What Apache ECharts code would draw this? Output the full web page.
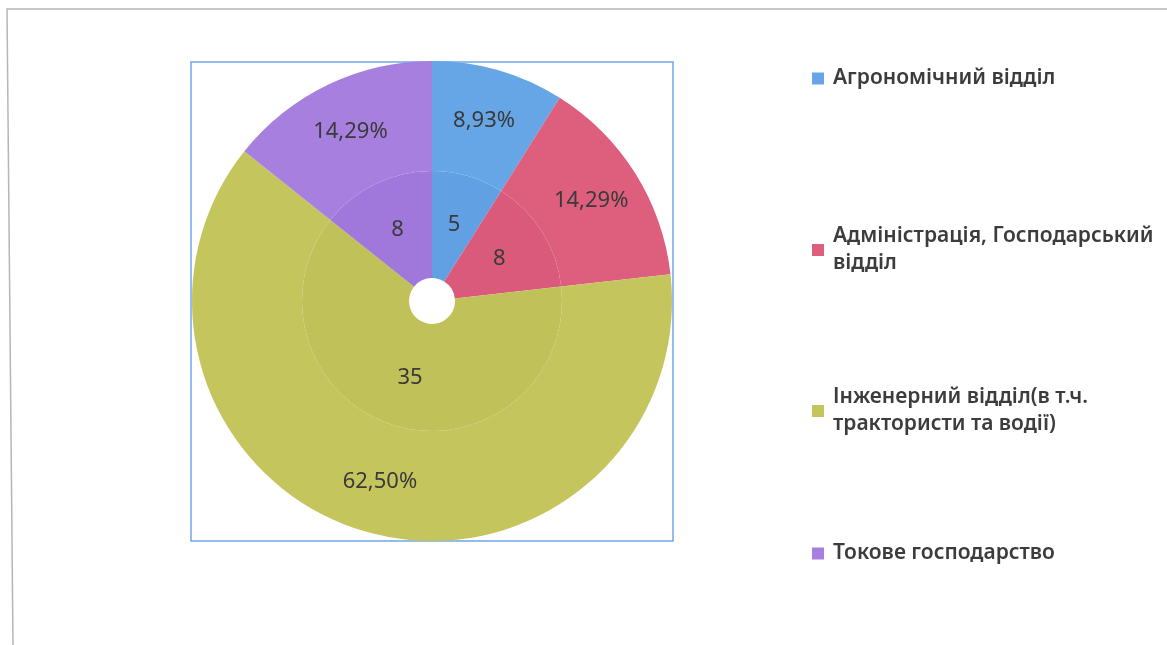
<!DOCTYPE html>
<html>
<head>
    <meta charset="utf-8">
    <title>ECharts</title>
    <script src="https://cdn.jsdelivr.net/npm/echarts@6/dist/echarts.min.js"></script>
</head>
<body style="margin:0;background:#fff;">
    <div id="main" style="width:1167px;height:645px;"></div>
    <script type="text/javascript">
        var myChart = echarts.init(document.getElementById('main'));

        // дані
        var categories = ['Агрономічний відділ', 'Адміністрація, Господарський відділ', 'Інженерний відділ(в т.ч. трактористи та водії)', 'Токове господарство'];
        var legendText = ['Агрономічний відділ', 'Адміністрація, Господарський\nвідділ', 'Інженерний відділ(в т.ч.\nтрактористи та водії)', 'Токове господарство'];
        var counts = [5, 8, 35, 8];
        var colors = ['#66a6e6', '#de5e7e', '#c4c55c', '#a77fdf'];
        var innerColors = ['#61a1e3', '#d95a7b', '#c0c159', '#a078db'];
        var legendTops = [60, 221, 382, 535];

        var total = counts.reduce(function (a, b) { return a + b; }, 0);

        var font = '"Noto Sans", "Open Sans", sans-serif';

        var legends = categories.map(function (name, i) {
            var twoLines = legendText[i].indexOf('\n') >= 0;
            return {
                data: [name],
                left: 807,
                top: legendTops[i],
                orient: 'vertical',
                itemWidth: 12,
                itemHeight: 12,
                itemGap: 0,
                icon: 'rect',
                selectedMode: false,
                formatter: function () { return legendText[i]; },
                textStyle: {
                    fontFamily: font,
                    fontSize: 21,
                    fontWeight: 600,
                    lineHeight: 27,
                    color: '#3c3c3c',
                    padding: twoLines ? [0, 0, -27, 4] : [0, 0, 0, 4]
                }
            };
        });

        var option = {
            backgroundColor: '#fff',
            animation: false,
            legend: legends,
            graphic: [
                { type: 'polyline', shape: { points: [[1167, 9], [7, 9], [13, 645]] }, style: { stroke: '#b5b5bd', lineWidth: 1.5, fill: null } },
                { type: 'rect', shape: { x: 191, y: 62, width: 482, height: 479 }, style: { stroke: '#6ea6e6', lineWidth: 1.5, fill: null }, z: 0 }
            ],
            series: [
                {
                    name: 'percent',
                    type: 'pie',
                    center: [432, 301],
                    radius: [130, 240],
                    startAngle: 90,
                    clockwise: true,
                    label: {
                        show: true,
                        position: 'inside',
                        fontFamily: font,
                        fontSize: 22,
                        color: '#3a3a3a',
                        formatter: function (p) {
                            return (p.value / total * 100).toFixed(2).replace('.', ',') + '%';
                        }
                    },
                    labelLine: { show: false },
                    emphasis: { disabled: true },
                    data: categories.map(function (n, i) {
                        return { name: n, value: counts[i], itemStyle: { color: colors[i] } };
                    })
                },
                {
                    name: 'count',
                    type: 'pie',
                    center: [432, 301],
                    radius: [23, 130],
                    startAngle: 90,
                    clockwise: true,
                    label: {
                        show: true,
                        position: 'inside',
                        fontFamily: font,
                        fontSize: 22,
                        color: '#3a3a3a',
                        formatter: '{c}'
                    },
                    labelLine: { show: false },
                    emphasis: { disabled: true },
                    data: categories.map(function (n, i) {
                        return { name: n, value: counts[i], itemStyle: { color: innerColors[i] } };
                    })
                }
            ]
        };

        myChart.setOption(option);
    </script>
</body>
</html>
